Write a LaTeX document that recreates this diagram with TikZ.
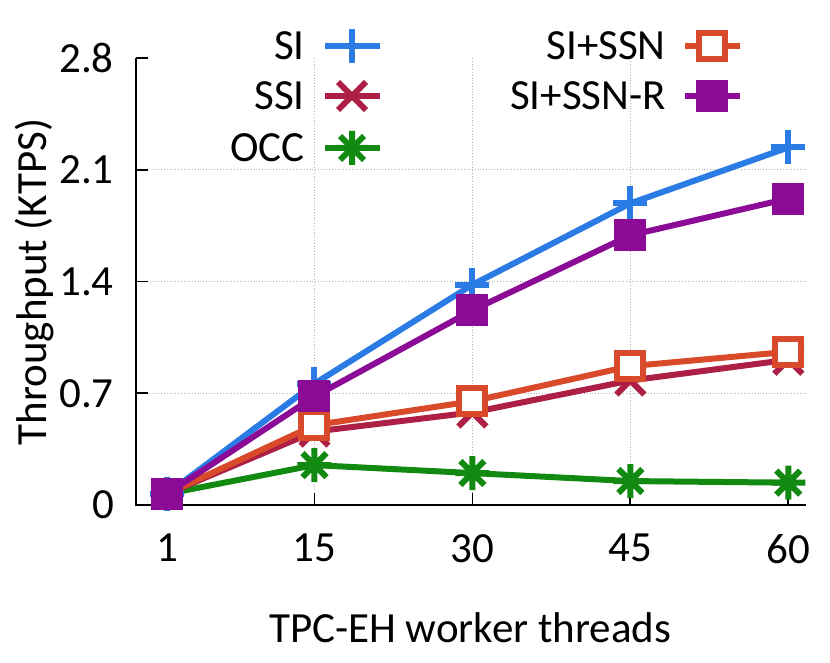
\documentclass[tikz,border=0pt]{standalone}
\usepackage{fontspec}
\setmainfont{Carlito}
\definecolor{cSI}{HTML}{2B7BE5}
\definecolor{cSSI}{HTML}{AE1F45}
\definecolor{cOCC}{HTML}{128A12}
\definecolor{cSSN}{HTML}{D84A2A}
\definecolor{cSSNR}{HTML}{8B0A96}
\begin{document}
\begin{tikzpicture}[x=1pt,y=-1pt,
  lbl/.style={font=\fontsize{43}{43}\selectfont,inner sep=0pt},
  ser/.style={line width=6pt,line join=round},
  mplus/.pic={\draw[line width=6pt] (-17,0)--(17,0) (0,-17)--(0,17);},
  mx/.pic={\draw[line width=6pt] (-14,-14)--(14,14) (-14,14)--(14,-14);},
  mstar/.pic={\draw[line width=6pt] (-17,0)--(17,0) (0,-17)--(0,17) (-12,-12)--(12,12) (-12,12)--(12,-12);},
  mbox/.pic={\draw[line width=6pt,fill=white] (-13,-13) rectangle (13,13);},
  mfbox/.pic={\fill (-16,-16) rectangle (16,16);}]
\useasboundingbox (0,0) rectangle (830,663);
% grid
\foreach \xx in {15,30,45} \draw[gray!60,dotted,line width=0.8pt] ({156.5+10.53*\xx},58)--({156.5+10.53*\xx},505);
\foreach \yy in {0.7,1.4,2.1} \draw[gray!60,dotted,line width=0.8pt] (136,{505-159.6*\yy})--(806,{505-159.6*\yy});
% axes
\draw[line width=1.8pt] (136,58)--(136,505)--(806,505);
\foreach \yy/\t in {0/0,0.7/0.7,1.4/1.4,2.1/2.1,2.8/2.8}{
  \draw[line width=1.8pt] (136,{505-159.6*\yy})--(148,{505-159.6*\yy});
  \node[lbl,anchor=east] (yt\t) at (114,{505-159.6*\yy}) {\t};}
\foreach \xx in {1,15,30,45,60}{
  \draw[line width=1.8pt] ({156.5+10.53*\xx},505)--({156.5+10.53*\xx},493);
  \node[lbl,anchor=north] (xt\xx) at ({156.5+10.53*\xx},534) {\xx};}
\node[lbl,rotate=90] (ylab) at (34,282) {Throughput (KTPS)};
\node[lbl] (xlab) at (470,628) {TPC-EH worker threads};
% series
\newcommand\series[3]{%
  \draw[ser,#1] \foreach[count=\i] \v/\xx in {#3}{\ifnum\i=1 ({156.5+10.53*\xx},{505-159.6*\v})\else --({156.5+10.53*\xx},{505-159.6*\v})\fi};
  \foreach \v/\xx in {#3} \pic[#1] at ({156.5+10.53*\xx},{505-159.6*\v}) {#2};}
\series{cOCC}{mstar}{0.07/1,0.25/15,0.20/30,0.15/45,0.14/60}
\series{cSSI}{mx}{0.07/1,0.46/15,0.58/30,0.78/45,0.91/60}
\series{cSSN}{mbox}{0.07/1,0.50/15,0.65/30,0.87/45,0.96/60}
\series{cSI}{mplus}{0.07/1,0.76/15,1.38/30,1.89/45,2.24/60}
\series{cSSNR}{mfbox}{0.07/1,0.68/15,1.22/30,1.69/45,1.92/60}
% legend
\foreach \t/\c/\m/\yy in {SI/cSI/mplus/46,SSI/cSSI/mx/96,OCC/cOCC/mstar/148}{
  \node[lbl,anchor=east] (l\t) at (305,\yy) {\t};
  \draw[ser,\c] (325,\yy)--(380,\yy);
  \pic[\c] at (352,\yy) {\m};}
\node[lbl,anchor=east] (lssn) at (666,46) {SI+SSN};
\draw[ser,cSSN] (685,46)--(740,46); \pic[cSSN] at (712,46) {mbox};
\node[lbl,anchor=east] (lssnr) at (666,96) {SI+SSN-R};
\draw[ser,cSSNR] (685,96)--(740,96); \pic[cSSNR] at (712,96) {mfbox};
\end{tikzpicture}
\end{document}
